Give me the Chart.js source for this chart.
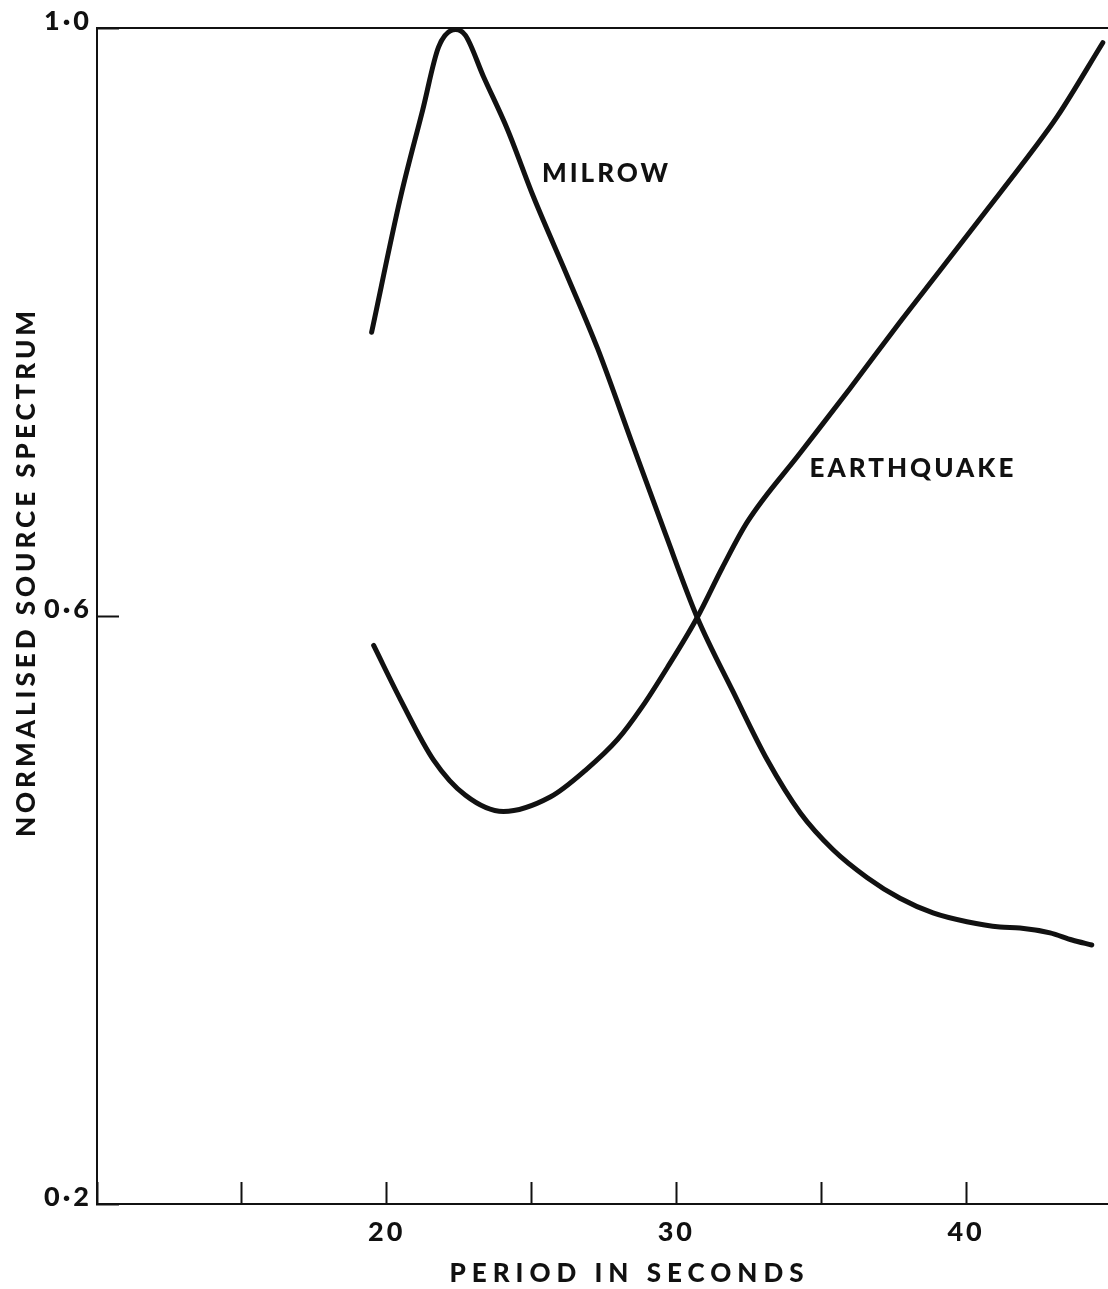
<!DOCTYPE html>
<html>
<head>
<meta charset="utf-8">
<script src="https://cdn.jsdelivr.net/npm/chart.js@4/dist/chart.umd.min.js"></script>
<style>
  html, body { margin: 0; padding: 0; background: #ffffff; }
  #wrap { width: 1108px; height: 1289px; position: relative; }
</style>
</head>
<body>
<div id="wrap"><canvas id="c"></canvas></div>
<script>
// ---- data ----
const milrowPeriod   = [19.48, 20.48, 21.24, 21.79, 22.38, 22.72, 23.34, 24.17, 25.07, 26.24, 27.28, 28.52, 29.62, 30.72, 31.97, 33.14, 34.28, 35.41, 36.59, 37.72, 38.86, 40.03, 41.17, 41.86, 42.90, 43.66, 44.34];
const milrowSpectrum = [0.793, 0.885, 0.944, 0.987, 0.999, 0.995, 0.967, 0.931, 0.885, 0.831, 0.782, 0.715, 0.656, 0.599, 0.548, 0.502, 0.466, 0.441, 0.422, 0.408, 0.398, 0.392, 0.3884, 0.3878, 0.3844, 0.3796, 0.3762];

const quakePeriod   = [19.55, 20.48, 21.62, 22.72, 24.03, 25.66, 26.86, 27.97, 28.81, 29.69, 30.72, 31.59, 32.45, 34.28, 36.00, 37.72, 39.10, 40.59, 42.31, 43.14, 44.72];
const quakeSpectrum = [0.580, 0.543, 0.502, 0.478, 0.467, 0.477, 0.495, 0.516, 0.538, 0.565, 0.599, 0.633, 0.664, 0.711, 0.755, 0.800, 0.835, 0.873, 0.917, 0.9395, 0.990];

const xTickValues = [10, 15, 20, 25, 30, 35, 40];
const xTickLabels = ['', '', '20', '', '30', '', '40'];
const yTickValues = [0.2, 0.6, 1.0];
const yTickLabels = ['0·2', '0·6', '1·0'];

const seriesNames = ['MILROW', 'EARTHQUAKE'];
const seriesLabelAt = [[25.36, 0.901], [34.6, 0.700]];

const xTitle = 'PERIOD IN SECONDS';
const yTitle = 'NORMALISED SOURCE SPECTRUM';

// ---- chart ----
const INK = '#111111';
const FONT = 'Lato, "DejaVu Sans", sans-serif';

function pts(xs, ys) { return xs.map((x, i) => ({ x: x, y: ys[i] })); }

const spacingPlugin = {
  id: 'spacing',
  beforeDraw(chart) { chart.ctx.letterSpacing = '3px'; }
};

const annotatePlugin = {
  id: 'annotate',
  afterDraw(chart) {
    const ctx = chart.ctx;
    const xs = chart.scales.x, ys = chart.scales.y;
    const ca = chart.chartArea;
    ctx.save();
    ctx.fillStyle = INK;
    ctx.font = '900 26px ' + FONT;
    ctx.letterSpacing = '3px';
    ctx.textBaseline = 'middle';
    ctx.textAlign = 'left';
    seriesNames.forEach((name, i) => {
      const p = seriesLabelAt[i];
      ctx.fillText(name, xs.getPixelForValue(p[0]), ys.getPixelForValue(p[1]));
    });
    // axis titles
    ctx.letterSpacing = '6px';
    ctx.textAlign = 'center';
    ctx.fillText(xTitle, (ca.left + ca.right) / 2 + 27, ca.bottom + 70);
    ctx.letterSpacing = '4px';
    ctx.translate(27, (ca.top + ca.bottom) / 2 - 44);
    ctx.rotate(-Math.PI / 2);
    ctx.fillText(yTitle, 0, 0);
    ctx.restore();
  }
};

new Chart(document.getElementById('c'), {
  type: 'line',
  data: {
    datasets: [
      { label: seriesNames[0], data: pts(milrowPeriod, milrowSpectrum) },
      { label: seriesNames[1], data: pts(quakePeriod, quakeSpectrum) }
    ]
  },
  options: {
    responsive: true,
    maintainAspectRatio: false,
    animation: false,
    devicePixelRatio: 1,
    layout: { padding: { left: 0, right: 0, top: 0, bottom: 0 } },
    elements: {
      line: { borderColor: INK, borderWidth: 5, cubicInterpolationMode: 'monotone', borderCapStyle: 'round', borderJoinStyle: 'round', fill: false },
      point: { radius: 0, hoverRadius: 0 }
    },
    plugins: { legend: { display: false }, tooltip: { enabled: false } },
    scales: {
      x: {
        type: 'linear',
        position: 'bottom',
        min: 10,
        max: 44.9,
        afterBuildTicks(s) { s.ticks = xTickValues.map(v => ({ value: v })); },
        afterFit(s) { s.height = 85; s.paddingLeft = 0; s.paddingRight = 0; },
        ticks: {
          color: INK,
          font: { family: FONT, size: 27, weight: '900' },
          padding: 34,
          maxRotation: 0,
          autoSkip: false,
          callback(v) { const i = xTickValues.indexOf(v); return i >= 0 ? xTickLabels[i] : ''; }
        },
        grid: { display: true, drawOnChartArea: false, drawTicks: true, tickLength: -22, tickWidth: 2, tickColor: INK },
        border: { display: true, color: INK, width: 2 }
      },
      xTop: {
        type: 'linear',
        position: 'top',
        min: 10,
        max: 44.9,
        afterFit(s) { s.height = 28; s.paddingLeft = 0; s.paddingRight = 0; },
        ticks: { display: false },
        grid: { display: false, drawTicks: false },
        border: { display: true, color: INK, width: 2 }
      },
      y: {
        type: 'linear',
        position: 'left',
        min: 0.2,
        max: 1.0,
        afterBuildTicks(s) { s.ticks = yTickValues.map(v => ({ value: v })); },
        afterFit(s) { s.width = 97; s.paddingTop = 0; s.paddingBottom = 0; },
        ticks: {
          color: INK,
          font: { family: FONT, size: 27, weight: '900' },
          padding: 27,
          labelOffset: -7,
          autoSkip: false,
          callback(v) { const i = yTickValues.indexOf(v); return i >= 0 ? yTickLabels[i] : ''; }
        },
        grid: { display: true, drawOnChartArea: false, drawTicks: true, tickLength: -22, tickWidth: 2, tickColor: INK },
        border: { display: true, color: INK, width: 2 }
      }
    }
  },
  plugins: [spacingPlugin, annotatePlugin]
});
</script>
</body>
</html>
